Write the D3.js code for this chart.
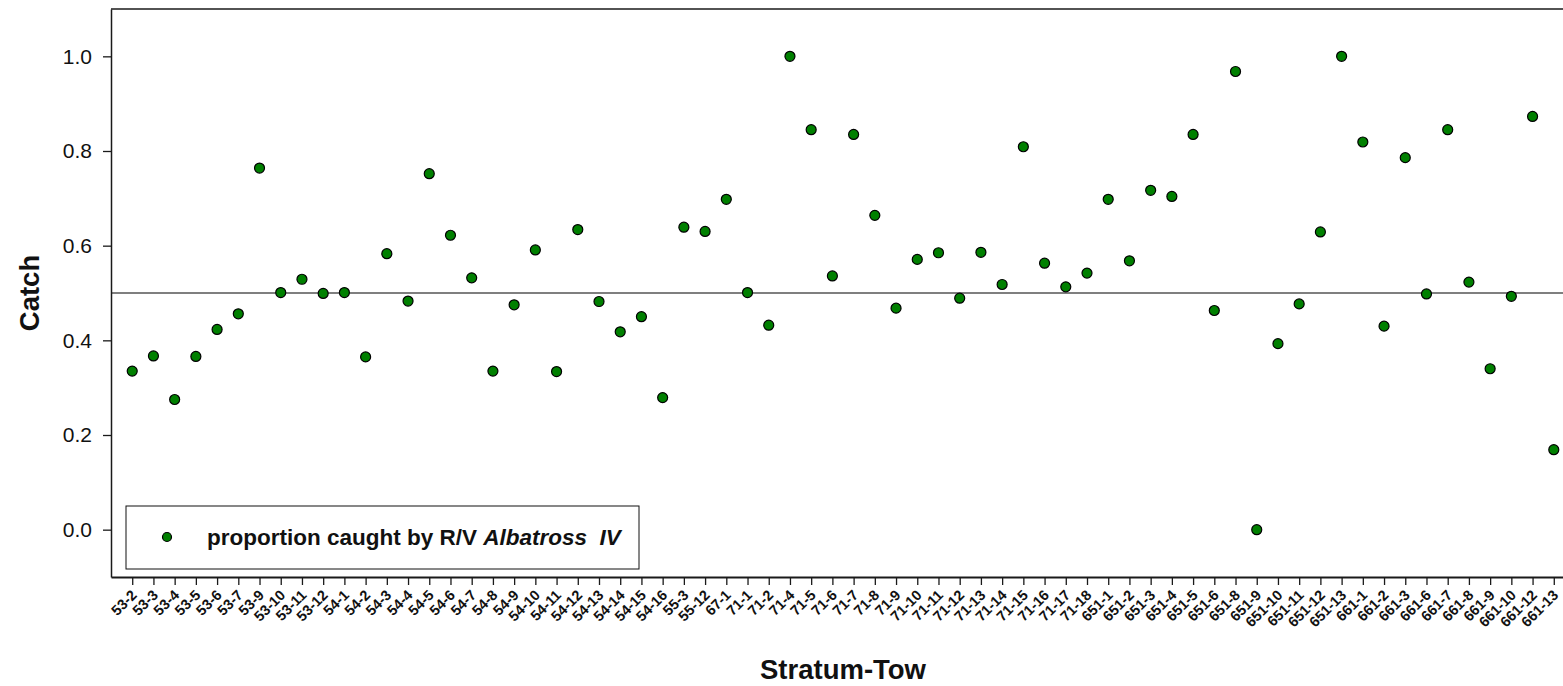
<!DOCTYPE html>
<html>
<head>
<meta charset="utf-8">
<script src="https://cdn.jsdelivr.net/npm/d3@7"></script>
<style>
  html, body { margin: 0; padding: 0; background: #fff; }
  svg { display: block; font-family: "Liberation Sans", Arial, sans-serif; }
</style>
</head>
<body>
<svg id="chart" width="1563" height="686"></svg>
<script>
// ---- data ----
const categories = [
  "53-2","53-3","53-4","53-5","53-6","53-7","53-9","53-10","53-11","53-12",
  "54-1","54-2","54-3","54-4","54-5","54-6","54-7","54-8","54-9","54-10",
  "54-11","54-12","54-13","54-14","54-15","54-16","55-3","55-12","67-1",
  "71-1","71-2","71-4","71-5","71-6","71-7","71-8","71-9","71-10","71-11",
  "71-12","71-13","71-14","71-15","71-16","71-17","71-18",
  "651-1","651-2","651-3","651-4","651-5","651-6","651-8","651-9","651-10",
  "651-11","651-12","651-13",
  "661-1","661-2","661-3","661-6","661-7","661-8","661-9","661-10","661-12","661-13"
];
const proportion = [
  0.335,0.367,0.275,0.366,0.423,0.456,0.764,0.501,0.529,0.499,
  0.501,0.365,0.583,0.483,0.752,0.622,0.532,0.335,0.475,0.591,
  0.334,0.634,0.482,0.418,0.450,0.279,0.639,0.630,0.698,
  0.501,0.432,1.000,0.845,0.536,0.835,0.664,0.468,0.571,0.585,
  0.489,0.586,0.518,0.809,0.563,0.513,0.542,
  0.698,0.568,0.717,0.704,0.835,0.463,0.968,0.000,0.393,
  0.477,0.629,1.000,
  0.819,0.430,0.786,0.498,0.845,0.523,0.340,0.493,0.873,0.169
];
const yTicks = [0.0, 0.2, 0.4, 0.6, 0.8, 1.0];
const referenceLine = 0.5;
const seriesLabelPlain = "proportion caught by R/V ";
const seriesLabelItalic = "Albatross  IV";
const xTitle = "Stratum-Tow";
const yTitle = "Catch";

// ---- layout ----
const svg = d3.select("#chart");
const pLeft = 111, pRight = 1575, pTop = 9, pBottom = 577;

const x = d3.scalePoint().domain(categories).range([pLeft, pRight]).padding(1);
const y = d3.scaleLinear().domain([-0.1, 1.1]).range([pBottom, pTop]);

// reference line
svg.append("line")
  .attr("x1", pLeft).attr("x2", pRight)
  .attr("y1", y(referenceLine)).attr("y2", y(referenceLine))
  .attr("stroke", "#000").attr("stroke-width", 1.2);

// frame top
svg.append("line")
  .attr("x1", pLeft).attr("x2", pRight)
  .attr("y1", pTop).attr("y2", pTop)
  .attr("stroke", "#1a1a1a").attr("stroke-width", 1.5);

// y axis
const yAxis = d3.axisLeft(y).tickValues(yTicks).tickFormat(d3.format(".1f"))
  .tickSize(8).tickPadding(11).tickSizeOuter(0);
const gy = svg.append("g").attr("transform", `translate(${pLeft},0)`).call(yAxis);
gy.select(".domain").attr("stroke", "#1a1a1a").attr("stroke-width", 1.5);
gy.selectAll(".tick line").attr("stroke", "#1a1a1a").attr("stroke-width", 1.3);
gy.selectAll(".tick text").attr("font-size", 21).attr("fill", "#111")
  .attr("font-family", "Liberation Sans, Arial, sans-serif");

// x axis
const xAxis = d3.axisBottom(x).tickSize(8).tickSizeOuter(0).tickFormat(d => d);
const gx = svg.append("g").attr("transform", `translate(0,${pBottom})`).call(xAxis);
gx.select(".domain").attr("stroke", "#1a1a1a").attr("stroke-width", 2);
gx.selectAll(".tick line").attr("stroke", "#1a1a1a").attr("stroke-width", 1.3);
gx.selectAll(".tick text")
  .attr("font-size", 14.5).attr("font-weight", "bold").attr("fill", "#111")
  .attr("font-family", "Liberation Sans, Arial, sans-serif")
  .attr("text-anchor", "end")
  .attr("y", 0).attr("dy", 0)
  .attr("transform", "translate(5,19) rotate(-45)");

// points
svg.append("g").selectAll("circle")
  .data(categories.map((c, i) => ({ c, v: proportion[i] })))
  .join("circle")
  .attr("cx", d => x(d.c))
  .attr("cy", d => y(d.v))
  .attr("r", 5)
  .attr("fill", "#008000")
  .attr("stroke", "#000")
  .attr("stroke-width", 1.2);

// legend
const lg = svg.append("g");
lg.append("rect")
  .attr("x", 126).attr("y", 506).attr("width", 513).attr("height", 63)
  .attr("fill", "#fff").attr("stroke", "#111").attr("stroke-width", 1);
lg.append("circle")
  .attr("cx", 167).attr("cy", 537).attr("r", 4.5)
  .attr("fill", "#008000").attr("stroke", "#000").attr("stroke-width", 1.2);
const lt = lg.append("text")
  .attr("x", 207).attr("y", 545)
  .attr("font-size", 22.5).attr("font-weight", "bold").attr("fill", "#111")
  .style("white-space", "pre");
lt.append("tspan").text(seriesLabelPlain);
lt.append("tspan").attr("font-style", "italic").text(seriesLabelItalic);

// axis titles
svg.append("text")
  .attr("x", (pLeft + pRight) / 2).attr("y", 679)
  .attr("text-anchor", "middle")
  .attr("font-size", 27.5).attr("font-weight", "bold").attr("fill", "#111")
  .text(xTitle);
svg.append("text")
  .attr("transform", `translate(39,${y(0.5)}) rotate(-90)`)
  .attr("text-anchor", "middle")
  .attr("font-size", 27.5).attr("font-weight", "bold").attr("fill", "#111")
  .text(yTitle);
</script>
</body>
</html>
